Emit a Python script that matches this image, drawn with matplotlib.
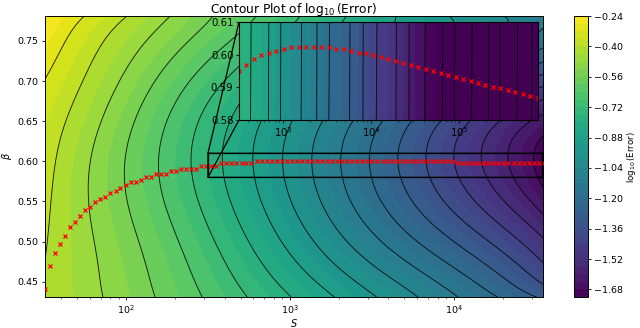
import numpy as np
import matplotlib
matplotlib.use('Agg')
import matplotlib.pyplot as plt
from matplotlib.patches import Rectangle
from numpy.polynomial import polynomial as P

log_s_grid = [1.5, 1.75, 2.0, 2.25, 2.5, 2.75, 3.0, 3.25, 3.5, 3.75, 4.0, 4.25, 4.55]
beta_grid = [0.431, 0.45, 0.50, 0.55, 0.60, 0.65, 0.70, 0.74, 0.781]
z_0431 = [-.41, -.455, -.515, -.58, -.65, -.72, -.80, -.873, -.95, -1.03, -1.115, -1.195, -1.30]
z_045 = [-.405, -.455, -.52, -.59, -.665, -.745, -.83, -.905, -.99, -1.075, -1.155, -1.235, -1.365]
z_050 = [-.395, -.465, -.535, -.62, -.70, -.80, -.90, -1.00, -1.10, -1.19, -1.28, -1.38, -1.52]
z_055 = [-.385, -.47, -.558, -.65, -.745, -.845, -.955, -1.07, -1.18, -1.28, -1.385, -1.495, -1.64]
z_060 = [-.375, -.465, -.56, -.662, -.765, -.87, -.975, -1.088, -1.206, -1.317, -1.43, -1.54, -1.70]
z_065 = [-.355, -.445, -.54, -.64, -.75, -.845, -.95, -1.065, -1.18, -1.29, -1.41, -1.53, -1.66]
z_070 = [-.32, -.406, -.49, -.585, -.686, -.78, -.87, -.96, -1.05, -1.135, -1.215, -1.285, -1.38]
z_074 = [-.28, -.37, -.455, -.535, -.615, -.695, -.775, -.855, -.925, -.99, -1.05, -1.11, -1.22]
z_0781 = [-.24, -.32, -.398, -.475, -.552, -.625, -.70, -.775, -.845, -.905, -.965, -1.025, -1.10]

# red points of the main axes
log_s_points = [1.505, 1.536, 1.567, 1.597, 1.628, 1.659, 1.690, 1.720, 1.751, 1.782,
                1.813, 1.843, 1.874, 1.905, 1.936, 1.966, 1.997, 2.028, 2.059, 2.089,
                2.120, 2.151, 2.182, 2.212, 2.243, 2.274, 2.305, 2.335, 2.366, 2.397,
                2.428, 2.459, 2.489, 2.520, 2.551, 2.582, 2.612, 2.643, 2.674, 2.705,
                2.735, 2.766, 2.797, 2.828, 2.858, 2.889, 2.920, 2.951, 2.981, 3.012,
                3.043, 3.074, 3.105, 3.135, 3.166, 3.197, 3.228, 3.258, 3.289, 3.320,
                3.351, 3.381, 3.412, 3.443, 3.474, 3.504, 3.535, 3.566, 3.597, 3.627,
                3.658, 3.689, 3.720, 3.751, 3.781, 3.812, 3.843, 3.874, 3.904, 3.935,
                3.966, 3.997, 4.027, 4.058, 4.089, 4.120, 4.150, 4.181, 4.212, 4.243,
                4.273, 4.304, 4.335, 4.366, 4.397, 4.427, 4.458, 4.489, 4.520, 4.550]
beta_points = [.441, .469, .486, .497, .507, .518, .525, .532, .539, .543,
               .549, .553, .556, .560, .563, .567, .570, .574, .574, .577,
               .581, .581, .584, .584, .584, .588, .588, .591, .591, .591,
               .591, .594, .594, .594, .594, .598, .598, .598, .598, .598,
               .598, .598, .601, .601, .601, .601, .601, .601, .601, .601,
               .601, .601, .601, .601, .601, .601, .601, .601, .601, .601,
               .601, .601, .601, .601, .601, .601, .601, .601, .601, .601,
               .601, .601, .601, .601, .601, .601, .601, .601, .601, .601,
               .601, .601, .598, .598, .598, .598, .598, .598, .598, .598,
               .598, .598, .598, .598, .598, .598, .598, .598, .598, .598]

# inset
inset_log_s_grid = [2.5, 3.0, 3.5, 4.0, 4.5, 5.0, 5.5, 5.9]
inset_beta_grid = [0.58, 0.61]
inset_z_058 = [-.765, -.98, -1.195, -1.425, -1.65, -1.88, -2.107, -2.29]
inset_z_061 = [-.763, -.978, -1.193, -1.423, -1.648, -1.878, -2.105, -2.288]
inset_log_s_points = [2.500, 2.585, 2.670, 2.754, 2.839, 2.924, 3.009, 3.094, 3.178, 3.263,
                      3.348, 3.433, 3.518, 3.602, 3.687, 3.772, 3.857, 3.942, 4.026, 4.111,
                      4.196, 4.281, 4.366, 4.450, 4.535, 4.620, 4.705, 4.790, 4.874, 4.959,
                      5.044, 5.129, 5.214, 5.298, 5.383, 5.468, 5.553, 5.638, 5.722, 5.807, 5.892]
inset_beta_points = [.5951, .5968, .5987, .5998, .6005, .6011, .6016, .6022, .6022, .6022,
                     .6022, .6023, .6022, .6016, .6016, .6010, .6005, .6005, .5999, .5993,
                     .5987, .5981, .5975, .5968, .5962, .5956, .5950, .5944, .5938, .5932,
                     .5926, .5920, .5914, .5908, .5902, .5897, .5892, .5885, .5879, .5873, .5867]

cbar_ticks = [-0.24, -0.40, -0.56, -0.72, -0.88, -1.04, -1.20, -1.36, -1.52, -1.68]
fill_levels = np.arange(38) * 0.04 - 1.72
line_levels = np.arange(18) * 0.08 - 1.68
inset_line_levels = np.arange(26) * 0.08 - 2.40

W, H = 640, 328
fig = plt.figure(figsize=(W / 100, H / 100), dpi=100)
ax = fig.add_axes([45 / W, 1 - 297 / H, 497.5 / W, 281 / H])

cmap = plt.get_cmap('viridis').copy()
cmap.set_under(cmap(0.0))


def smoothed(log_s, beta, table, deg=(5, 6), n=300):
    u0, u1 = min(log_s), max(log_s)
    b0, b1 = min(beta), max(beta)
    su = (np.array(log_s) - u0) / (u1 - u0) * 2 - 1
    sb = (np.array(beta) - b0) / (b1 - b0) * 2 - 1
    uu, bb = np.meshgrid(su, sb)
    vand = P.polyvander2d(uu.ravel(), bb.ravel(), deg)
    coef = np.linalg.lstsq(vand, np.array(table).ravel(), rcond=None)[0]
    coef = coef.reshape(deg[0] + 1, deg[1] + 1)
    fu = np.linspace(-1, 1, n)
    fb = np.linspace(-1, 1, n)
    fz = P.polygrid2d(fu, fb, coef).T
    return 10.0 ** ((fu + 1) / 2 * (u1 - u0) + u0), (fb + 1) / 2 * (b1 - b0) + b0, fz


Z = [z_0431, z_045, z_050, z_055, z_060, z_065, z_070, z_074, z_0781]
Xf, Yf, Zf = smoothed(log_s_grid, beta_grid, Z)
Zf = np.clip(Zf, -1.715, -0.242)
cf = ax.contourf(Xf, Yf, Zf, levels=fill_levels, cmap=cmap, vmin=-1.72, vmax=-0.24)
ax.contour(Xf, Yf, Zf, levels=line_levels, colors='k', linewidths=0.65, alpha=0.85,
           linestyles='solid')
ax.plot(10.0 ** np.array(log_s_points), beta_points, 'x', color='red', ms=3, mew=0.9, zorder=4)
ax.set_xscale('log')
ax.set_xlim(32, 34900)
ax.set_ylim(0.431, 0.781)
ax.set_yticks([0.45, 0.50, 0.55, 0.60, 0.65, 0.70, 0.75])
ax.set_xlabel(r'$S$', fontsize=7, labelpad=1)
ax.set_ylabel(r'$\beta$', fontsize=7, labelpad=3)
ax.set_title(r'Contour Plot of $\log_{10}$(Error)', fontsize=8.7, pad=2.5)
ax.tick_params(which='major', labelsize=6.8, length=2.5, width=0.6, pad=2)
ax.tick_params(which='minor', length=1.5, width=0.4, labelbottom=False)
for sp in ax.spines.values():
    sp.set_linewidth(0.7)

axins = ax.inset_axes([(239 - 45) / 497.5, (297 - 120) / 281, 299 / 497.5, 98 / 281])
Si = 10.0 ** np.array(inset_log_s_grid)
Zi = np.array([inset_z_058, inset_z_061])
axins.contourf(Si, inset_beta_grid, Zi, levels=fill_levels, cmap=cmap, vmin=-1.72, vmax=-0.24, extend='min')
axins.contour(Si, inset_beta_grid, Zi, levels=inset_line_levels, colors='k', linewidths=0.65, alpha=0.85,
              linestyles='solid')
axins.plot(10.0 ** np.array(inset_log_s_points), inset_beta_points, 'x', color='red', ms=3, mew=0.9)
axins.set_xscale('log')
axins.set_xlim(10 ** 2.5, 10 ** 5.894)
axins.set_ylim(0.58, 0.61)
axins.set_yticks([0.58, 0.59, 0.60, 0.61])
axins.tick_params(which='major', labelsize=7.3, length=2.5, width=0.6, pad=1.5)
axins.tick_params(which='minor', length=1.5, width=0.4, labelbottom=False)
for sp in axins.spines.values():
    sp.set_linewidth(0.8)

ind = ax.indicate_inset((10 ** 2.5, 0.58, 34900 - 10 ** 2.5, 0.03), inset_ax=axins,
                        edgecolor='k', alpha=1, linewidth=0.9)
ind.rectangle.set_edgecolor((0, 0, 0, 0))
for i, c in enumerate(ind.connectors):
    c.set_visible(i in (0, 1))
    c.set_linewidth(0.9)
    c.set_edgecolor('k')
ax.add_patch(Rectangle((10 ** 2.5, 0.58), 10 ** 5.894 - 10 ** 2.5, 0.03, fill=False,
                       edgecolor='k', linewidth=0.9, zorder=3.5))

cax = fig.add_axes([574 / W, 1 - 297 / H, 14 / W, 281 / H])
cb = fig.colorbar(cf, cax=cax, ticks=cbar_ticks)
cb.ax.tick_params(labelsize=6.8, length=2.5, width=0.6, pad=2)
cb.ax.set_yticklabels([f'\u2212{abs(t):.2f}' for t in cbar_ticks])
cb.outline.set_linewidth(0.7)
fig.text(632 / W, 1 - 157 / H, r'$\log_{10}$(Error)', fontsize=6.2, rotation=90,
         ha='center', va='center')

fig.savefig('out.png', dpi=100)
